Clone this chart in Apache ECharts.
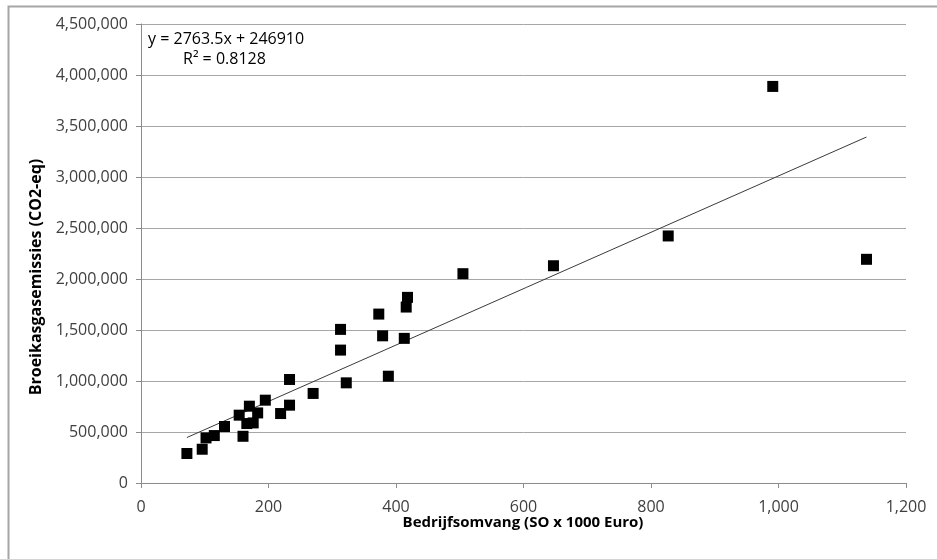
<!DOCTYPE html>
<html>
<head>
<meta charset="utf-8">
<title>Bedrijfsomvang vs. broeikasgasemissies</title>
<script src="https://cdn.jsdelivr.net/npm/echarts@6/dist/echarts.min.js"></script>
<style>
  html, body { margin: 0; padding: 0; background: #ffffff; }
  #chart { width: 937px; height: 559px; }
</style>
</head>
<body>
<div id="chart"></div>
<script>
// Farm size (standard output, x 1000 euro) per farm
const bedrijfsomvang = [
  72, 96, 102, 115, 131, 154, 160, 170, 166, 176,
  183, 195, 219, 233, 233, 270, 313, 313, 322, 505,
  418, 416, 373, 379, 413, 388, 647, 827, 991, 1138
];
// Greenhouse gas emissions (CO2-eq) per farm
const emissies = [
  289000, 331000, 442000, 465000, 554000, 665000, 458000, 753000, 583000, 589000,
  687000, 812000, 681000, 763000, 1015000, 878000, 1506000, 1303000, 982000, 2052000,
  1820000, 1725000, 1656000, 1443000, 1418000, 1047000, 2130000, 2422000, 3888000, 2193000
];

// Linear trend line coefficients and fit quality
const trendSlope = 2763.5;
const trendIntercept = 246910;
const rSquared = 0.8128;

// Axis ranges
const xTicks = { min: 0, max: 1200, interval: 200 };
const yTicks = { min: 0, max: 4500000, interval: 500000 };

const xTitle = 'Bedrijfsomvang (SO x 1000 Euro)';
const yTitle = 'Broeikasgasemissies (CO2-eq)';

const points = bedrijfsomvang.map((x, i) => [x, emissies[i]]);
const xMin = Math.min(...bedrijfsomvang);
const xMax = Math.max(...bedrijfsomvang);
const trend = [xMin, xMax].map(x => [x, trendSlope * x + trendIntercept]);

const fmt = v => Number(v).toLocaleString('en-US');
const FONT = 'Open Sans';

const chart = echarts.init(document.getElementById('chart'), null, { renderer: 'canvas' });

chart.setOption({
  animation: false,
  backgroundColor: '#ffffff',
  grid: { left: 141, right: 31, top: 24, bottom: 76, containLabel: false },
  xAxis: {
    type: 'value',
    min: xTicks.min, max: xTicks.max, interval: xTicks.interval,
    axisLine: { show: true, lineStyle: { color: '#8c8c8c', width: 1 } },
    axisTick: { show: true, length: 5, lineStyle: { color: '#8c8c8c' } },
    splitLine: { show: false },
    axisLabel: {
      color: '#404040', fontFamily: FONT, fontSize: 16, margin: 16,
      formatter: fmt
    }
  },
  yAxis: {
    type: 'value',
    min: yTicks.min, max: yTicks.max, interval: yTicks.interval,
    axisLine: { show: true, lineStyle: { color: '#8c8c8c', width: 1 } },
    axisTick: { show: true, length: 5, lineStyle: { color: '#8c8c8c' } },
    splitLine: { show: true, lineStyle: { color: '#a6a6a6', width: 1 } },
    axisLabel: {
      color: '#404040', fontFamily: FONT, fontSize: 16, margin: 13,
      formatter: fmt
    }
  },
  series: [
    {
      type: 'line',
      data: trend,
      showSymbol: false,
      symbol: 'none',
      lineStyle: { color: '#3a3a3a', width: 1 },
      z: 3,
      silent: true
    },
    {
      type: 'scatter',
      data: points,
      symbol: 'rect',
      symbolSize: 11,
      itemStyle: { color: '#000000', opacity: 1 },
      z: 4
    }
  ],
  graphic: [
    {
      type: 'rect',
      left: 6, top: 4,
      shape: { width: 960, height: 600 },
      style: { fill: 'none', stroke: '#a6a6a6', lineWidth: 2 },
      silent: true
    },
    {
      type: 'text',
      left: 148, top: 31,
      style: {
        text: 'y = ' + trendSlope + 'x + ' + trendIntercept,
        font: '16px "' + FONT + '"', fill: '#000000'
      }
    },
    {
      type: 'text',
      left: 183, top: 51,
      style: {
        text: 'R² = ' + rSquared,
        font: '16px "' + FONT + '"', fill: '#000000'
      }
    },
    {
      type: 'text',
      x: 523, y: 523,
      style: {
        text: xTitle,
        font: 'bold 15px "' + FONT + '"', fill: '#000000',
        align: 'center', verticalAlign: 'middle'
      }
    },
    {
      type: 'text',
      x: 36, y: 277,
      rotation: Math.PI / 2,
      style: {
        text: yTitle,
        font: 'bold 16px "' + FONT + '"', fill: '#000000',
        align: 'center', verticalAlign: 'middle'
      }
    }
  ]
});
</script>
</body>
</html>
